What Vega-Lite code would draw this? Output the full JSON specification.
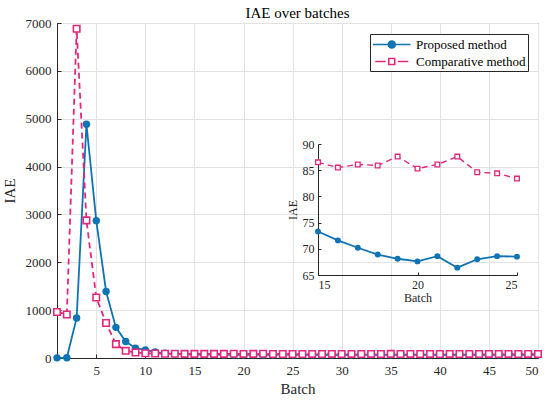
{
  "$schema": "https://vega.github.io/schema/vega-lite/v6.json",
  "width": 481,
  "height": 335,
  "autosize": {"type": "none"},
  "padding": {"left": 57, "top": 23, "right": 12, "bottom": 43},
  "config": {
    "font": "Liberation Serif",
    "view": {"stroke": "#262626", "strokeWidth": 1},
    "axis": {
      "labelFont": "Liberation Serif",
      "labelFontSize": 13,
      "labelColor": "#262626",
      "titleFont": "Liberation Serif",
      "titleFontSize": 15,
      "titleFontWeight": "normal",
      "titleColor": "#262626",
      "domainColor": "#262626",
      "tickColor": "#262626",
      "gridColor": "#e2e2e2",
      "gridOpacity": 1
    },
    "legend": {"labelFont": "Liberation Serif"}
  },
  "title": {
    "text": "IAE over batches",
    "font": "Liberation Serif",
    "fontSize": 15,
    "fontWeight": "normal",
    "color": "#000000",
    "anchor": "middle",
    "frame": "group",
    "offset": -4
  },
  "datasets": {
    "iae": [
      {"batch": 1, "method": "Proposed method", "iae": 3},
      {"batch": 2, "method": "Proposed method", "iae": 4},
      {"batch": 3, "method": "Proposed method", "iae": 836},
      {"batch": 4, "method": "Proposed method", "iae": 4885},
      {"batch": 5, "method": "Proposed method", "iae": 2870},
      {"batch": 6, "method": "Proposed method", "iae": 1390},
      {"batch": 7, "method": "Proposed method", "iae": 640},
      {"batch": 8, "method": "Proposed method", "iae": 345},
      {"batch": 9, "method": "Proposed method", "iae": 205},
      {"batch": 10, "method": "Proposed method", "iae": 170},
      {"batch": 11, "method": "Proposed method", "iae": 125},
      {"batch": 12, "method": "Proposed method", "iae": 98},
      {"batch": 13, "method": "Proposed method", "iae": 86},
      {"batch": 14, "method": "Proposed method", "iae": 79},
      {"batch": 15, "method": "Proposed method", "iae": 73.3},
      {"batch": 16, "method": "Proposed method", "iae": 71.6},
      {"batch": 17, "method": "Proposed method", "iae": 70.2},
      {"batch": 18, "method": "Proposed method", "iae": 68.9},
      {"batch": 19, "method": "Proposed method", "iae": 68.1},
      {"batch": 20, "method": "Proposed method", "iae": 67.6},
      {"batch": 21, "method": "Proposed method", "iae": 68.6},
      {"batch": 22, "method": "Proposed method", "iae": 66.4},
      {"batch": 23, "method": "Proposed method", "iae": 68.0},
      {"batch": 24, "method": "Proposed method", "iae": 68.6},
      {"batch": 25, "method": "Proposed method", "iae": 68.5},
      {"batch": 26, "method": "Proposed method", "iae": 68.2},
      {"batch": 27, "method": "Proposed method", "iae": 67.9},
      {"batch": 28, "method": "Proposed method", "iae": 68.4},
      {"batch": 29, "method": "Proposed method", "iae": 67.7},
      {"batch": 30, "method": "Proposed method", "iae": 68.1},
      {"batch": 31, "method": "Proposed method", "iae": 67.5},
      {"batch": 32, "method": "Proposed method", "iae": 68.0},
      {"batch": 33, "method": "Proposed method", "iae": 67.8},
      {"batch": 34, "method": "Proposed method", "iae": 68.3},
      {"batch": 35, "method": "Proposed method", "iae": 67.6},
      {"batch": 36, "method": "Proposed method", "iae": 67.9},
      {"batch": 37, "method": "Proposed method", "iae": 68.2},
      {"batch": 38, "method": "Proposed method", "iae": 67.4},
      {"batch": 39, "method": "Proposed method", "iae": 67.8},
      {"batch": 40, "method": "Proposed method", "iae": 68.0},
      {"batch": 41, "method": "Proposed method", "iae": 67.6},
      {"batch": 42, "method": "Proposed method", "iae": 67.9},
      {"batch": 43, "method": "Proposed method", "iae": 68.1},
      {"batch": 44, "method": "Proposed method", "iae": 67.5},
      {"batch": 45, "method": "Proposed method", "iae": 67.8},
      {"batch": 46, "method": "Proposed method", "iae": 68.0},
      {"batch": 47, "method": "Proposed method", "iae": 67.7},
      {"batch": 48, "method": "Proposed method", "iae": 67.9},
      {"batch": 49, "method": "Proposed method", "iae": 67.6},
      {"batch": 50, "method": "Proposed method", "iae": 67.8},
      {"batch": 1, "method": "Comparative method", "iae": 960},
      {"batch": 2, "method": "Comparative method", "iae": 910},
      {"batch": 3, "method": "Comparative method", "iae": 6880},
      {"batch": 4, "method": "Comparative method", "iae": 2875},
      {"batch": 5, "method": "Comparative method", "iae": 1265},
      {"batch": 6, "method": "Comparative method", "iae": 730},
      {"batch": 7, "method": "Comparative method", "iae": 290},
      {"batch": 8, "method": "Comparative method", "iae": 150},
      {"batch": 9, "method": "Comparative method", "iae": 115},
      {"batch": 10, "method": "Comparative method", "iae": 100},
      {"batch": 11, "method": "Comparative method", "iae": 93},
      {"batch": 12, "method": "Comparative method", "iae": 90},
      {"batch": 13, "method": "Comparative method", "iae": 88},
      {"batch": 14, "method": "Comparative method", "iae": 87},
      {"batch": 15, "method": "Comparative method", "iae": 86.5},
      {"batch": 16, "method": "Comparative method", "iae": 85.5},
      {"batch": 17, "method": "Comparative method", "iae": 86.1},
      {"batch": 18, "method": "Comparative method", "iae": 85.9},
      {"batch": 19, "method": "Comparative method", "iae": 87.6},
      {"batch": 20, "method": "Comparative method", "iae": 85.3},
      {"batch": 21, "method": "Comparative method", "iae": 86.1},
      {"batch": 22, "method": "Comparative method", "iae": 87.6},
      {"batch": 23, "method": "Comparative method", "iae": 84.6},
      {"batch": 24, "method": "Comparative method", "iae": 84.4},
      {"batch": 25, "method": "Comparative method", "iae": 83.4},
      {"batch": 26, "method": "Comparative method", "iae": 84.2},
      {"batch": 27, "method": "Comparative method", "iae": 85.0},
      {"batch": 28, "method": "Comparative method", "iae": 84.6},
      {"batch": 29, "method": "Comparative method", "iae": 85.3},
      {"batch": 30, "method": "Comparative method", "iae": 84.8},
      {"batch": 31, "method": "Comparative method", "iae": 85.1},
      {"batch": 32, "method": "Comparative method", "iae": 84.5},
      {"batch": 33, "method": "Comparative method", "iae": 85.2},
      {"batch": 34, "method": "Comparative method", "iae": 84.9},
      {"batch": 35, "method": "Comparative method", "iae": 85.4},
      {"batch": 36, "method": "Comparative method", "iae": 84.7},
      {"batch": 37, "method": "Comparative method", "iae": 85.0},
      {"batch": 38, "method": "Comparative method", "iae": 84.6},
      {"batch": 39, "method": "Comparative method", "iae": 85.2},
      {"batch": 40, "method": "Comparative method", "iae": 84.9},
      {"batch": 41, "method": "Comparative method", "iae": 85.1},
      {"batch": 42, "method": "Comparative method", "iae": 84.5},
      {"batch": 43, "method": "Comparative method", "iae": 85.0},
      {"batch": 44, "method": "Comparative method", "iae": 84.8},
      {"batch": 45, "method": "Comparative method", "iae": 85.3},
      {"batch": 46, "method": "Comparative method", "iae": 84.7},
      {"batch": 47, "method": "Comparative method", "iae": 85.0},
      {"batch": 48, "method": "Comparative method", "iae": 84.6},
      {"batch": 49, "method": "Comparative method", "iae": 85.1},
      {"batch": 50, "method": "Comparative method", "iae": 84.9}
    ]
  },
  "data": {"name": "iae"},
  "layer": [
    {
      "encoding": {
        "x": {
          "field": "batch",
          "type": "quantitative",
          "title": "Batch",
          "scale": {"domain": [1, 50], "nice": false, "zero": false},
          "axis": {"values": [5, 10, 15, 20, 25, 30, 35, 40, 45, 50], "format": "d", "labelFont": "Liberation Serif", "tickSize": -4, "labelPadding": 10, "titlePadding": 4}
        },
        "y": {
          "field": "iae",
          "type": "quantitative",
          "title": "IAE",
          "scale": {"domain": [0, 7000], "nice": false},
          "axis": {"values": [0, 1000, 2000, 3000, 4000, 5000, 6000, 7000], "format": "d", "labelFont": "Liberation Serif", "tickSize": -4, "labelPadding": 10, "titlePadding": 8}
        }
      },
      "layer": [
        {
          "transform": [{"filter": "datum.method === 'Proposed method'"}],
          "mark": {"type": "line", "color": "#0f73b4", "strokeWidth": 1.8}
        },
        {
          "transform": [{"filter": "datum.method === 'Proposed method'"}],
          "mark": {"type": "point", "shape": "circle", "filled": true, "color": "#0f73b4", "opacity": 1, "size": 55}
        },
        {
          "transform": [{"filter": "datum.method === 'Comparative method'"}],
          "mark": {"type": "line", "color": "#e3287c", "strokeWidth": 1.8, "strokeDash": [6, 4]}
        },
        {
          "transform": [{"filter": "datum.method === 'Comparative method'"}],
          "mark": {"type": "point", "shape": "square", "fill": "white", "stroke": "#e3287c", "strokeWidth": 1.6, "opacity": 1, "size": 42}
        },
        {
          "transform": [{"filter": "datum.batch < 0"}],
          "mark": {"type": "point", "filled": true, "opacity": 1},
          "encoding": {
            "shape": {
              "field": "method",
              "type": "nominal",
              "scale": {
                "domain": ["Proposed method", "Comparative method"],
                "range": [
                  "M-1,0H4M1.03,0A0.47,0.47 0 1,0 1.97,0A0.47,0.47 0 1,0 1.03,0Z",
                  "M-0.7,0H0.7M2.3,0H3.7M1.1,-0.4H1.9V0.4H1.1Z"
                ]
              },
              "legend": {
                "title": null,
                "orient": "none",
                "legendX": 313,
                "legendY": 11,
                "direction": "vertical",
                "symbolSize": 225,
                "symbolStrokeWidth": 1.6,
                "labelOffset": 27,
                "labelFont": "Liberation Serif",
                "labelFontSize": 13,
                "labelColor": "#000000",
                "strokeColor": "#262626",
                "fillColor": "#ffffff",
                "padding": 2,
                "rowPadding": 1
              }
            },
            "fill": {
              "field": "method",
              "type": "nominal",
              "scale": {"domain": ["Proposed method", "Comparative method"], "range": ["#0f73b4", "#ffffff"]}
            },
            "stroke": {
              "field": "method",
              "type": "nominal",
              "scale": {"domain": ["Proposed method", "Comparative method"], "range": ["#0f73b4", "#e3287c"]}
            }
          }
        }
      ]
    },
    {
      "transform": [{"filter": "datum.batch >= 15 && datum.batch <= 25"}],
      "encoding": {
        "x": {
          "field": "batch",
          "type": "quantitative",
          "title": "Batch",
          "scale": {"domain": [15, 25], "range": [261, 460], "nice": false, "zero": false},
          "axis": {"orient": "bottom", "offset": -83, "values": [15, 20, 25], "grid": false, "labelFont": "Liberation Serif", "tickSize": -3, "labelFontSize": 12, "titleFontSize": 12, "labelPadding": 7, "titlePadding": 2}
        },
        "y": {
          "field": "iae",
          "type": "quantitative",
          "title": "IAE",
          "scale": {"domain": [65, 90], "range": [252, 121], "nice": false, "zero": false},
          "axis": {"orient": "left", "offset": -261, "values": [65, 70, 75, 80, 85, 90], "grid": false, "labelFont": "Liberation Serif", "tickSize": -3, "labelFontSize": 12, "titleFontSize": 12, "labelPadding": 7, "titlePadding": 3}
        }
      },
      "layer": [
        {
          "data": {"values": [{}]},
          "transform": [],
          "mark": {"type": "rect", "fill": "white", "stroke": "#262626", "strokeWidth": 1},
          "encoding": {
            "x": {"datum": 15, "type": "quantitative", "title": "Batch"},
            "x2": {"datum": 25},
            "y": {"datum": 65, "type": "quantitative", "title": "IAE"},
            "y2": {"datum": 90}
          }
        },
        {
          "data": {"values": [{"g": 20}]},
          "transform": [],
          "mark": {"type": "rule", "color": "#e2e2e2", "strokeWidth": 1},
          "encoding": {
            "x": {"field": "g", "type": "quantitative", "title": "Batch"},
            "y": {"datum": 65, "type": "quantitative", "title": "IAE"},
            "y2": {"datum": 90}
          }
        },
        {
          "data": {"values": [{"g": 70}, {"g": 75}, {"g": 80}, {"g": 85}]},
          "transform": [],
          "mark": {"type": "rule", "color": "#e2e2e2", "strokeWidth": 1},
          "encoding": {
            "y": {"field": "g", "type": "quantitative", "title": "IAE"},
            "x": {"datum": 15, "type": "quantitative", "title": "Batch"},
            "x2": {"datum": 25}
          }
        },
        {
          "transform": [{"filter": "datum.method === 'Proposed method'"}],
          "mark": {"type": "line", "color": "#0f73b4", "strokeWidth": 1.8}
        },
        {
          "transform": [{"filter": "datum.method === 'Proposed method'"}],
          "mark": {"type": "point", "shape": "circle", "filled": true, "color": "#0f73b4", "opacity": 1, "size": 35}
        },
        {
          "transform": [{"filter": "datum.method === 'Comparative method'"}],
          "mark": {"type": "line", "color": "#e3287c", "strokeWidth": 1.4, "strokeDash": [6, 4]}
        },
        {
          "transform": [{"filter": "datum.method === 'Comparative method'"}],
          "mark": {"type": "point", "shape": "square", "fill": "white", "stroke": "#e3287c", "strokeWidth": 1.3, "opacity": 1, "size": 22}
        }
      ]
    }
  ],
  "resolve": {"scale": {"x": "independent", "y": "independent"}, "axis": {"x": "independent", "y": "independent"}}
}
